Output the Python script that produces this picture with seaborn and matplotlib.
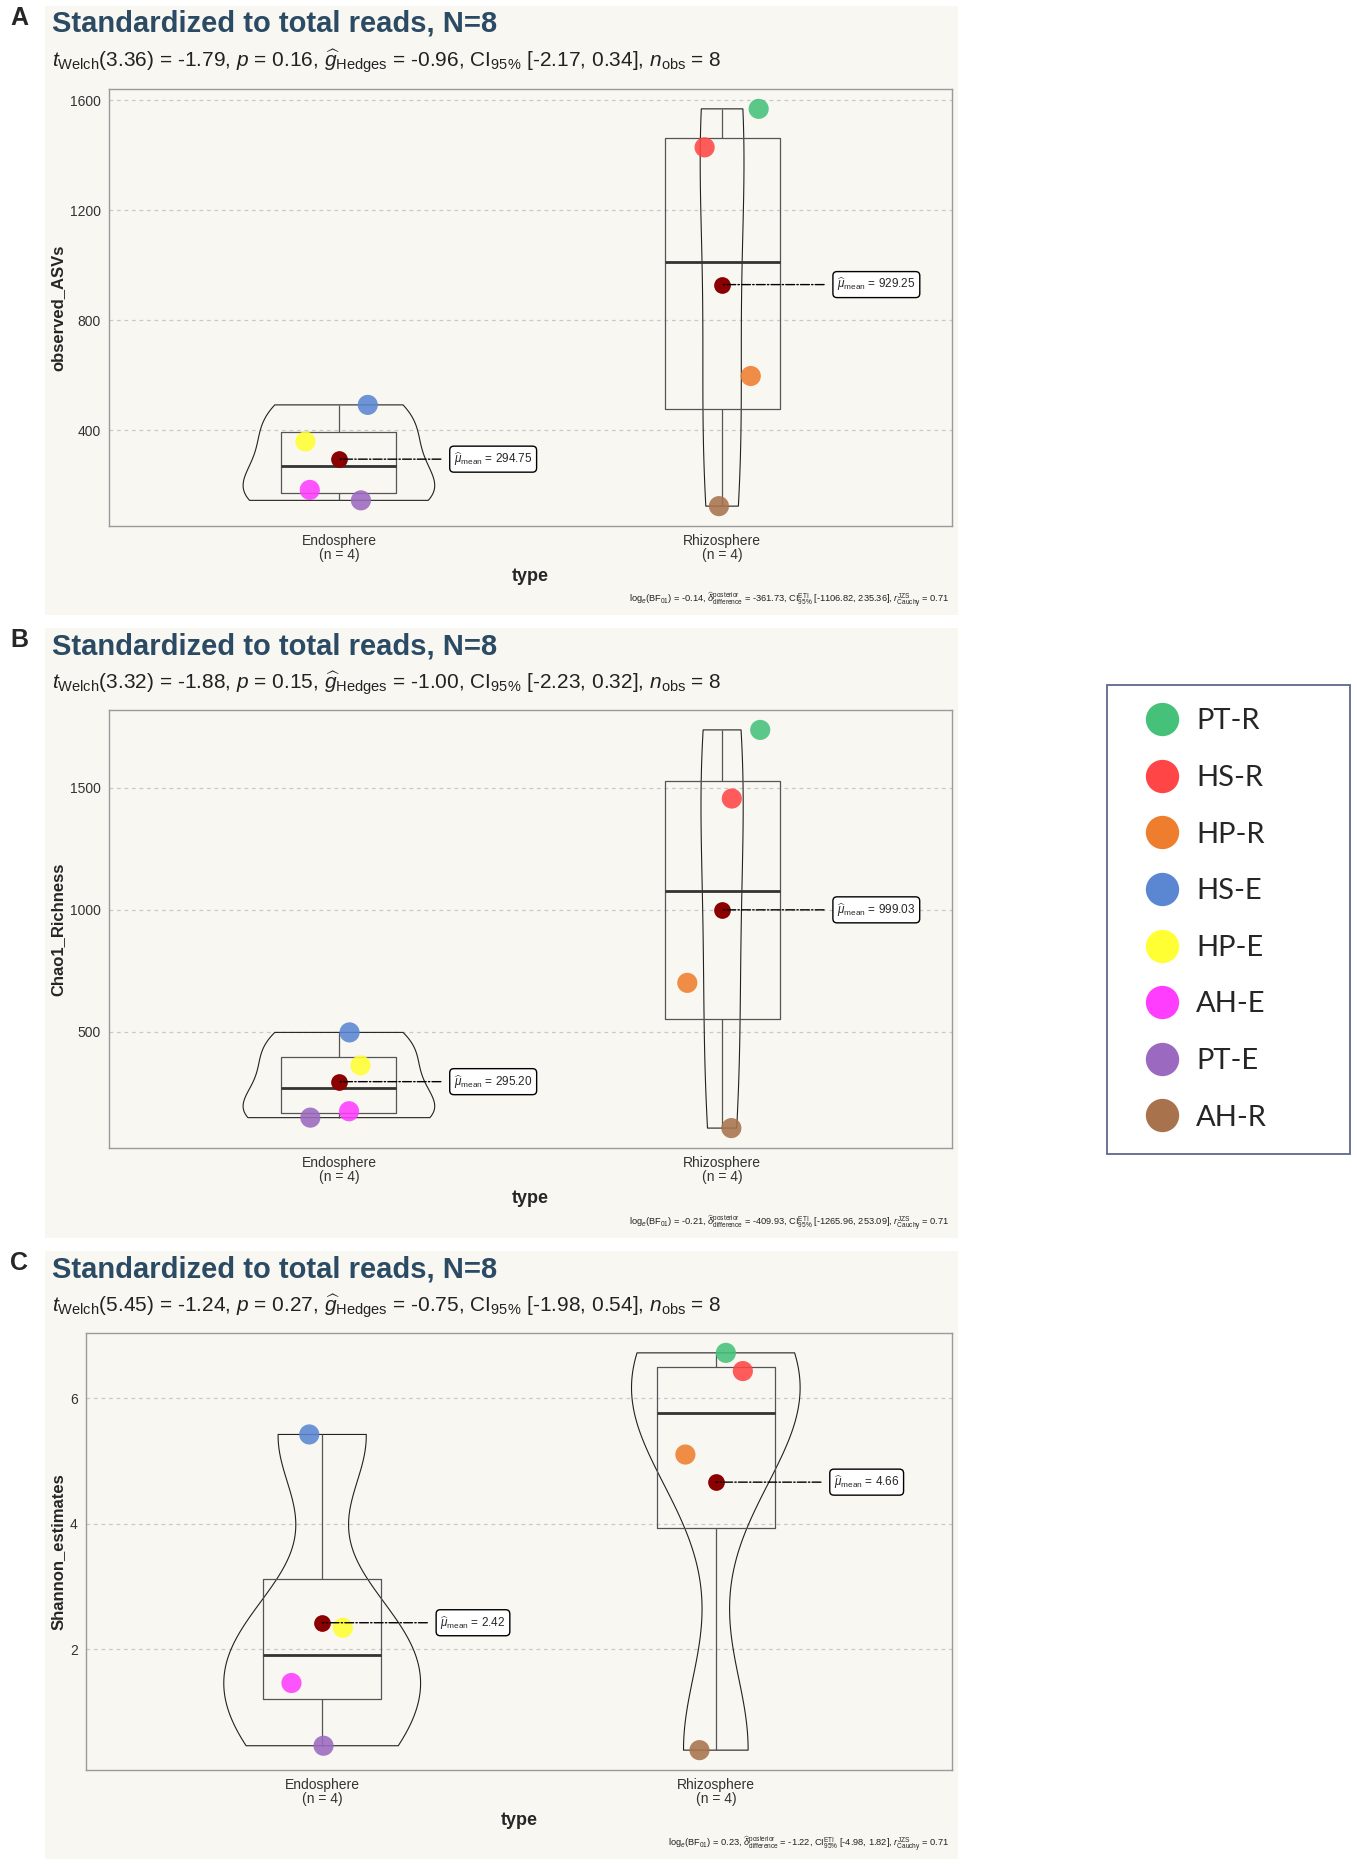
import numpy as np
import pandas as pd
import matplotlib
matplotlib.use('Agg')
import matplotlib.pyplot as plt
import seaborn as sns
from matplotlib import font_manager
from matplotlib.lines import Line2D
from matplotlib.patches import Rectangle

# data
samples = ['HS-E', 'HP-E', 'AH-E', 'PT-E', 'PT-R', 'HS-R', 'HP-R', 'AH-R']
types = ['Endosphere'] * 4 + ['Rhizosphere'] * 4
observed_asvs = [492, 359, 183, 145, 1568, 1428, 597, 124]
chao1_richness = [497, 362, 174, 147.8, 1736.12, 1455, 700, 105]
shannon_estimates = [5.42, 2.34, 1.46, 0.46, 6.72, 6.43, 5.10, 0.39]

legend_order = ['PT-R', 'HS-R', 'HP-R', 'HS-E', 'HP-E', 'AH-E', 'PT-E', 'AH-R']
sample_colors = ['#45C17A', '#FF4545', '#EE7D2E', '#5A86D2', '#FFFF33', '#FF3DFF', '#9B69BF', '#A8734C']

metrics = ['observed_ASVs', 'Chao1_Richness', 'Shannon_estimates']
yticks = [[400, 800, 1200, 1600], [500, 1000, 1500], [2, 4, 6]]
panel_labels = ['A', 'B', 'C']
title = 'Standardized to total reads, N=8'
subtitles = [
    r'$t_{\mathrm{Welch}}$(3.36) = -1.79, $p$ = 0.16, $\widehat{g}_{\mathrm{Hedges}}$ = -0.96, CI$_{95\%}$ [-2.17, 0.34], $n_{\mathrm{obs}}$ = 8',
    r'$t_{\mathrm{Welch}}$(3.32) = -1.88, $p$ = 0.15, $\widehat{g}_{\mathrm{Hedges}}$ = -1.00, CI$_{95\%}$ [-2.23, 0.32], $n_{\mathrm{obs}}$ = 8',
    r'$t_{\mathrm{Welch}}$(5.45) = -1.24, $p$ = 0.27, $\widehat{g}_{\mathrm{Hedges}}$ = -0.75, CI$_{95\%}$ [-1.98, 0.54], $n_{\mathrm{obs}}$ = 8',
]
captions = [
    r'log$_{e}$(BF$_{01}$) = -0.14, $\widehat{\delta}_{\mathrm{difference}}^{\mathrm{posterior}}$ = -361.73, CI$_{95\%}^{\mathrm{ETI}}$ [-1106.82, 235.36], $r_{\mathrm{Cauchy}}^{\mathrm{JZS}}$ = 0.71',
    r'log$_{e}$(BF$_{01}$) = -0.21, $\widehat{\delta}_{\mathrm{difference}}^{\mathrm{posterior}}$ = -409.93, CI$_{95\%}^{\mathrm{ETI}}$ [-1265.96, 253.09], $r_{\mathrm{Cauchy}}^{\mathrm{JZS}}$ = 0.71',
    r'log$_{e}$(BF$_{01}$) = 0.23, $\widehat{\delta}_{\mathrm{difference}}^{\mathrm{posterior}}$ = -1.22, CI$_{95\%}^{\mathrm{ETI}}$ [-4.98, 1.82], $r_{\mathrm{Cauchy}}^{\mathrm{JZS}}$ = 0.71',
]

df = pd.DataFrame({'sample': samples, 'type': types,
                   'observed_ASVs': observed_asvs,
                   'Chao1_Richness': chao1_richness,
                   'Shannon_estimates': shannon_estimates})

sns.set_style('white')
names = {f.name for f in font_manager.fontManager.ttflist}
narrow = 'Liberation Sans Narrow' if 'Liberation Sans Narrow' in names else 'Liberation Sans'
plt.rcParams['font.family'] = [narrow, 'DejaVu Sans']
plt.rcParams['mathtext.fontset'] = 'custom'
plt.rcParams['mathtext.rm'] = narrow
plt.rcParams['mathtext.it'] = narrow + ':italic'
plt.rcParams['mathtext.bf'] = narrow + ':bold'

bg = '#F8F7F2'
W, H = 1357, 1867
fig = plt.figure(figsize=(W / 100, H / 100), dpi=100)


def px(x, y):
    return x / W, 1 - y / H


# R-style bw.nrd0 bandwidth for the violins
def nrd0(kde):
    x = kde.dataset[0]
    sd = x.std(ddof=1)
    q75, q25 = np.percentile(x, [75, 25])
    h = 0.9 * min(sd, (q75 - q25) / 1.34) * len(x) ** -0.2
    return h / sd


# pick a jitter seed where the points don't hide under the mean marker
# (stripplot draws 4 uniform values per group, 2 groups per panel)
def pick_seed():
    for s in range(1000):
        j = np.random.RandomState(s).uniform(-0.1, 0.1, 24)
        if (abs(j[1]) > 0.045 and abs(j[9]) > 0.045 and j[17] > 0.05
                and abs(j[2] - j[3]) > 0.06 and abs(j[10] - j[11]) > 0.07):
            return s
    return 0


# panel geometry in pixels: background top/bottom, plot area left/top/bottom
bg_boxes = [(6, 615), (628, 1238), (1251, 1859)]
plot_boxes = [(109, 89, 526), (109, 710, 1148), (86, 1333, 1770)]
right_px = 952

np.random.seed(pick_seed())
for i, metric in enumerate(metrics):
    top, bot = bg_boxes[i]
    fig.patches.append(Rectangle(px(45, bot), (958 - 45) / W, (bot - top) / H,
                                 transform=fig.transFigure, facecolor=bg,
                                 edgecolor='none', zorder=-10))
    l, t, b = plot_boxes[i]
    x0, y0 = px(l, b)
    ax = fig.add_axes([x0, y0, (right_px - l) / W, (b - t) / H])
    ax.set_facecolor(bg)

    sns.violinplot(data=df, x='type', y=metric, cut=0, width=0.5, density_norm='area',
                   fill=False, inner=None, color='#222222', linewidth=0.8,
                   bw_method=nrd0, ax=ax)
    sns.boxplot(data=df, x='type', y=metric, width=0.3, fill=False, color='#555555',
                linewidth=0.9, showcaps=False, showfliers=False,
                medianprops=dict(linewidth=2.0, color='#333333'), ax=ax)
    sns.stripplot(data=df, x='type', y=metric, hue='sample', hue_order=legend_order,
                  palette=dict(zip(legend_order, sample_colors)), jitter=0.1, size=14.5,
                  alpha=0.88, linewidth=0, legend=False, zorder=3, ax=ax)
    sns.pointplot(data=df, x='type', y=metric, estimator='mean', errorbar=None,
                  linestyle='none', color='#8B0000', markersize=10, zorder=4, ax=ax)

    means = df.groupby('type')[metric].mean()
    for j, (g, m) in enumerate(means.items()):
        ax.annotate(r'$\widehat{\mu}_{\mathrm{mean}}$' + ' = %.2f' % m, xy=(j, m),
                    xytext=(j + 0.3, m), ha='left', va='center', fontsize=8.5,
                    bbox=dict(boxstyle='round,pad=0.35', fc='white', ec='black', lw=1),
                    arrowprops=dict(arrowstyle='-', linestyle='-.', color='black', lw=1,
                                    shrinkA=6, shrinkB=0), zorder=5)

    vals = df[metric]
    span = vals.max() - vals.min()
    ax.set_ylim(vals.min() - 0.05 * span, vals.max() + 0.05 * span)
    ax.set_xlim(-0.6, 1.6)
    ax.set_yticks(yticks[i])
    ax.set_xticks([0, 1])
    ax.set_xticklabels(['Endosphere\n(n = 4)', 'Rhizosphere\n(n = 4)'], linespacing=1.0)
    ax.tick_params(length=0, labelsize=10, colors='#333333')
    ax.tick_params(axis='x', pad=6)
    ax.tick_params(axis='y', pad=6)
    ax.yaxis.grid(True, linestyle=(0, (3, 3)), color='#C9C9C9', lw=0.9)
    ax.set_axisbelow(True)
    for s in ax.spines.values():
        s.set_color('#9A9A9A')
        s.set_linewidth(1)
    ax.set_ylabel(metric, fontsize=12, fontweight='bold', family='Liberation Sans', labelpad=3)
    ax.set_xlabel('type', fontsize=13, fontweight='bold', family='Liberation Sans', labelpad=4)

    fig.text(*px(10, top + 12), panel_labels[i], fontsize=18, fontweight='bold',
             family='Liberation Sans', va='center', ha='left')
    fig.text(*px(52, top + 18), title, fontsize=21, fontweight='bold', color='#2B4A63',
             va='center', ha='left')
    fig.text(*px(52, top + 55), subtitles[i], fontsize=15, color='#222222',
             va='center', ha='left')
    fig.text(*px(949, bot - 15), captions[i], fontsize=6.7, color='#222222',
             va='center', ha='right')

handles = [Line2D([], [], marker='o', linestyle='none', markersize=24,
                  markerfacecolor=c, markeredgecolor='none') for c in sample_colors]
lx0, ly0 = px(1107, 1149)
lx1, ly1 = px(1350, 690)
leg = fig.legend(handles, legend_order, loc='center left',
                 bbox_to_anchor=(lx0, ly0, lx1 - lx0, ly1 - ly0), mode='expand',
                 borderaxespad=0, frameon=True, fancybox=False,
                 prop={'family': 'Lato', 'size': 21}, labelspacing=1.05,
                 borderpad=0.8, handletextpad=0.05, handlelength=2.2)
leg.get_frame().set_edgecolor('#34426E')
leg.get_frame().set_linewidth(1.3)

fig.savefig('out.png', dpi=100, facecolor='white')
